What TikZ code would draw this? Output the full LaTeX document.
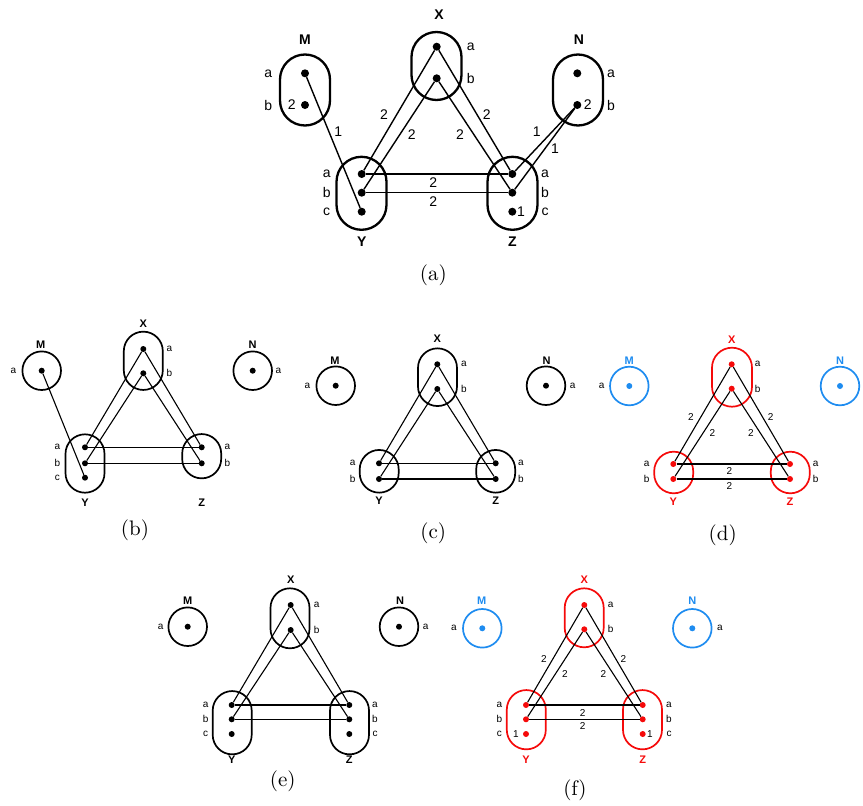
\documentclass[tikz,border=0pt]{standalone}
\usepackage{fontspec}
\newfontfamily\hv{Liberation Sans}
\definecolor{hred}{RGB}{245,10,10}
\definecolor{hblue}{RGB}{30,140,240}
\newcommand{\captxt}[1]{\scalebox{2.1}{\fontsize{10}{12}\selectfont #1}}
\begin{document}
\begin{tikzpicture}[x=1pt,y=-1pt,
  capA/.style={draw,line width=2.3pt,rounded corners=25pt,minimum width=50pt,inner sep=0},
  capB/.style={draw,line width=1.7pt,rounded corners=19.5pt,minimum width=39pt,inner sep=0},
  ringB/.style={draw,circle,line width=1.7pt,minimum size=38.6pt,inner sep=0},
  dotA/.style={circle,fill,inner sep=0,minimum size=8pt},
  dotB/.style={circle,fill,inner sep=0,minimum size=6pt},
  edgeA/.style={line width=1.4pt},
  edgeB/.style={line width=1.1pt},
  lblA/.style={font=\hv\fontsize{14}{14}\selectfont,inner sep=0},
  tagA/.style={font=\hv\bfseries\fontsize{14}{14}\selectfont,inner sep=0},
  lblB/.style={font=\hv\fontsize{10}{10}\selectfont,inner sep=0},
  tagB/.style={font=\hv\bfseries\fontsize{11}{11}\selectfont,inner sep=0},
  capt/.style={inner sep=0},
  rd/.style={color=hred},
  bl/.style={color=hblue}]
\useasboundingbox (0,0) rectangle (863,806);

%%%%%%%%%%%%%%%% (a)
\node[capA,minimum height=71pt] (aM) at (305,90) {};
\node[capA,minimum height=68pt] (aX) at (436.5,66) {};
\node[capA,minimum height=71pt] (aN) at (578,90) {};
\node[capA,minimum height=73pt] (aY) at (361.5,193.3) {};
\node[capA,minimum height=73pt] (aZ) at (512.5,193.3) {};
\node[dotA] (aM1) at (305,73.3) {};
\node[dotA] (aM2) at (305,105) {};
\node[dotA] (aX1) at (436.7,46.7) {};
\node[dotA] (aX2) at (436.7,78.3) {};
\node[dotA] (aN1) at (577.3,73.3) {};
\node[dotA] (aN2) at (577.3,105) {};
\node[dotA] (aY1) at (361.7,174) {};
\node[dotA] (aY2) at (361.7,192.7) {};
\node[dotA] (aY3) at (361.7,211.7) {};
\node[dotA] (aZ1) at (512.3,174) {};
\node[dotA] (aZ2) at (512.3,192.7) {};
\node[dotA] (aZ3) at (512.3,211.7) {};
\draw[edgeA] (aM1) -- (aY3);
\draw[edgeA] (aX1) -- (aY1);
\draw[edgeA] (aX2) -- (aY2);
\draw[edgeA] (aX1) -- (aZ1);
\draw[edgeA] (aX2) -- (aZ2);
\draw[edgeA] (aY1) -- (aZ1);
\draw[edgeA] (aY2) -- (aZ2);
\draw[edgeA] (aN2) -- (aZ1);
\draw[edgeA] (aN2) -- (aZ2);
\node[tagA] (aMt) at (305,40) {M};
\node[tagA] (aXt) at (439,15) {X};
\node[tagA] (aNt) at (579,40) {N};
\node[tagA] (aYt) at (361.7,241.7) {Y};
\node[tagA] (aZt) at (512.3,241.7) {Z};
\node[lblA] (aMa) at (268.3,73.3) {a};
\node[lblA] (aMb) at (268.3,105) {b};
\node[lblA] (aXa) at (470.7,46.7) {a};
\node[lblA] (aXb) at (470.7,78.3) {b};
\node[lblA] (aNa) at (611,73.3) {a};
\node[lblA] (aNb) at (611,105) {b};
\node[lblA] (aYa) at (326.7,174) {a};
\node[lblA] (aYb) at (326.7,192.7) {b};
\node[lblA] (aYc) at (326.7,211.7) {c};
\node[lblA] (aZa) at (545,174) {a};
\node[lblA] (aZb) at (545,192.7) {b};
\node[lblA] (aZc) at (545,211.7) {c};
\node[lblA] (aw1) at (291.7,105) {2};
\node[lblA] (aw2) at (587.7,105) {2};
\node[lblA] (aw3) at (521,211.7) {1};
\node[lblA] (aw4) at (338.3,131.7) {1};
\node[lblA] (aw5) at (384,115) {2};
\node[lblA] (aw6) at (411.7,135) {2};
\node[lblA] (aw7) at (486.7,115) {2};
\node[lblA] (aw8) at (460,135) {2};
\node[lblA] (aw9) at (433.3,182.7) {2};
\node[lblA] (aw10) at (433.3,201.7) {2};
\node[lblA] (aw11) at (536.7,131.7) {1};
\node[lblA] (aw12) at (555,148.3) {1};
\node[capt] (acap) at (433.3,275) {\captxt{(a)}};

%%%%%%%%%%%%%%%% (b)
\node[capB,minimum height=58.3pt] (bX) at (143.3,360.8) {};
\node[capB,minimum height=58.4pt] (bY) at (85,463.5) {};
\node[capB,minimum height=44.3pt] (bZ) at (201.7,456.2) {};
\node[ringB] (bM) at (41.7,370.7) {};
\node[ringB] (bN) at (252.7,370.7) {};
\node[dotB] (bM1) at (41.7,370.7) {};
\node[dotB] (bN1) at (252.7,370.7) {};
\node[dotB] (bX1) at (143.3,349) {};
\node[dotB] (bX2) at (143.3,373.3) {};
\node[dotB] (bY1) at (85,447.3) {};
\node[dotB] (bY2) at (85,463.3) {};
\node[dotB] (bY3) at (85,477.7) {};
\node[dotB] (bZ1) at (201.7,447.3) {};
\node[dotB] (bZ2) at (201.7,463.3) {};
\draw[edgeB] (bM1) -- (bY3);
\draw[edgeB] (bX1) -- (bY1);
\draw[edgeB] (bX2) -- (bY2);
\draw[edgeB] (bX1) -- (bZ1);
\draw[edgeB] (bX2) -- (bZ2);
\draw[edgeB] (bY1) -- (bZ1);
\draw[edgeB] (bY2) -- (bZ2);
\node[tagB] (bMt) at (40.7,345) {M};
\node[tagB] (bNt) at (252.7,345) {N};
\node[tagB] (bXt) at (143.3,324) {X};
\node[tagB] (bYt) at (85,502.7) {Y};
\node[tagB] (bZt) at (201.7,502.7) {Z};
\node[lblB] (bMa) at (13.3,370.7) {a};
\node[lblB] (bNa) at (278.3,370.7) {a};
\node[lblB] (bXa) at (169.3,349) {a};
\node[lblB] (bXb) at (169.3,373.3) {b};
\node[lblB] (bYa) at (57.3,447.3) {a};
\node[lblB] (bYb) at (57.3,463.3) {b};
\node[lblB] (bYc) at (57.3,477.7) {c};
\node[lblB] (bZa) at (227.3,447.3) {a};
\node[lblB] (bZb) at (227.3,463.3) {b};
\node[capt] (bcap) at (135,530) {\captxt{(b)}};

%%%%%%%%%%%%%%%% (c)
\node[capB,minimum height=57.7pt] (cX) at (437.5,377.2) {};
\node[capB,minimum height=42.7pt] (cY) at (379.2,471.3) {};
\node[capB,minimum height=42.7pt] (cZ) at (495.7,471.3) {};
\node[ringB] (cM) at (335.7,385.7) {};
\node[ringB] (cN) at (546,385.7) {};
\node[dotB] (cM1) at (335.7,385.7) {};
\node[dotB] (cN1) at (546,385.7) {};
\node[dotB] (cX1) at (437.3,364.3) {};
\node[dotB] (cX2) at (437.3,389) {};
\node[dotB] (cY1) at (379,463.3) {};
\node[dotB] (cY2) at (379,479) {};
\node[dotB] (cZ1) at (495.7,463.3) {};
\node[dotB] (cZ2) at (495.7,479) {};
\draw[edgeB] (cX1) -- (cY1);
\draw[edgeB] (cX2) -- (cY2);
\draw[edgeB] (cX1) -- (cZ1);
\draw[edgeB] (cX2) -- (cZ2);
\draw[edgeB] (cY1) -- (cZ1);
\draw[edgeB] (cY2) -- (cZ2);
\node[tagB] (cMt) at (335,360.7) {M};
\node[tagB] (cNt) at (546.5,360.7) {N};
\node[tagB] (cXt) at (437.3,338.3) {X};
\node[tagB] (cYt) at (379,500.7) {Y};
\node[tagB] (cZt) at (495.7,500.7) {Z};
\node[lblB] (cMa) at (307.3,385.7) {a};
\node[lblB] (cNa) at (572.7,385.7) {a};
\node[lblB] (cXa) at (464,364.3) {a};
\node[lblB] (cXb) at (464,389) {b};
\node[lblB] (cYa) at (352.7,463.3) {a};
\node[lblB] (cYb) at (352.7,479) {b};
\node[lblB] (cZa) at (521,463.3) {a};
\node[lblB] (cZb) at (521,479) {b};
\node[capt] (ccap) at (433.3,533.3) {\captxt{(c)}};

%%%%%%%%%%%%%%%% (d)
\node[capB,rd,minimum width=40pt,rounded corners=20pt,minimum height=59pt] (dX) at (732,377.2) {};
\node[capB,rd,minimum height=41.6pt] (dY) at (673.7,472.5) {};
\node[capB,rd,minimum height=41.6pt] (dZ) at (790.3,472.5) {};
\node[ringB,bl] (dM) at (629.3,386) {};
\node[ringB,bl] (dN) at (840,386) {};
\node[dotB,bl] (dM1) at (629.3,386) {};
\node[dotB,bl] (dN1) at (840,386) {};
\node[dotB,rd] (dX1) at (731.7,364.3) {};
\node[dotB,rd] (dX2) at (731.7,388.7) {};
\node[dotB,rd] (dY1) at (673.3,464) {};
\node[dotB,rd] (dY2) at (673.3,479) {};
\node[dotB,rd] (dZ1) at (790,464) {};
\node[dotB,rd] (dZ2) at (790,479) {};
\draw[edgeB] (dX1) -- (dY1);
\draw[edgeB] (dX2) -- (dY2);
\draw[edgeB] (dX1) -- (dZ1);
\draw[edgeB] (dX2) -- (dZ2);
\draw[edgeB] (dY1) -- (dZ1);
\draw[edgeB] (dY2) -- (dZ2);
\node[tagB,bl] (dMt) at (629.3,360.7) {M};
\node[tagB,bl] (dNt) at (840,360.7) {N};
\node[tagB,rd] (dXt) at (731.7,339.3) {X};
\node[tagB,rd] (dYt) at (673.3,501.7) {Y};
\node[tagB,rd] (dZt) at (790,501.7) {Z};
\node[lblB] (dMa) at (601.7,386) {a};
\node[lblB] (dXa) at (757.7,364.3) {a};
\node[lblB] (dXb) at (757.7,388.7) {b};
\node[lblB] (dYa) at (646.7,464) {a};
\node[lblB] (dYb) at (646.7,479) {b};
\node[lblB] (dZa) at (815.7,464) {a};
\node[lblB] (dZb) at (815.7,479) {b};
\node[lblB] (dw1) at (691,417.3) {2};
\node[lblB] (dw2) at (712.3,433.3) {2};
\node[lblB] (dw3) at (751,433.3) {2};
\node[lblB] (dw4) at (770.7,417.3) {2};
\node[lblB] (dw5) at (729.3,471) {2};
\node[lblB] (dw6) at (729.3,486) {2};
\node[capt] (dcap) at (722.7,535) {\captxt{(d)}};

%%%%%%%%%%%%%%%% (e)
\node[capB,minimum height=60pt] (eX) at (290,618.3) {};
\node[capB,minimum height=63.3pt] (eY) at (232.2,722.7) {};
\node[capB,minimum height=63.3pt] (eZ) at (349.5,722.7) {};
\node[ringB] (eM) at (187.7,626.7) {};
\node[ringB] (eN) at (399,626.7) {};
\node[dotB] (eM1) at (187.7,626.7) {};
\node[dotB] (eN1) at (399,626.7) {};
\node[dotB] (eX1) at (290.7,605) {};
\node[dotB] (eX2) at (290.7,630) {};
\node[dotB] (eY1) at (231.7,705) {};
\node[dotB] (eY2) at (231.7,719.3) {};
\node[dotB] (eY3) at (231.7,734) {};
\node[dotB] (eZ1) at (349.3,705) {};
\node[dotB] (eZ2) at (349.3,719.3) {};
\node[dotB] (eZ3) at (349.3,734) {};
\draw[edgeB] (eX1) -- (eY1);
\draw[edgeB] (eX2) -- (eY2);
\draw[edgeB] (eX1) -- (eZ1);
\draw[edgeB] (eX2) -- (eZ2);
\draw[edgeB] (eY1) -- (eZ1);
\draw[edgeB] (eY2) -- (eZ2);
\node[tagB] (eMt) at (187.7,601) {M};
\node[tagB] (eNt) at (400,601) {N};
\node[tagB] (eXt) at (290.7,580) {X};
\node[tagB] (eYt) at (231.7,760) {Y};
\node[tagB] (eZt) at (349.3,760) {Z};
\node[lblB] (eMa) at (160.7,626.7) {a};
\node[lblB] (eNa) at (425.7,626.7) {a};
\node[lblB] (eXa) at (316.7,605) {a};
\node[lblB] (eXb) at (316.7,630) {b};
\node[lblB] (eYa) at (205.7,705) {a};
\node[lblB] (eYb) at (205.7,719.3) {b};
\node[lblB] (eYc) at (205.7,734) {c};
\node[lblB] (eZa) at (375,705) {a};
\node[lblB] (eZb) at (375,719.3) {b};
\node[lblB] (eZc) at (375,734) {c};
\node[capt] (ecap) at (282.7,781.7) {\captxt{(e)}};

%%%%%%%%%%%%%%%% (f)
\node[capB,rd,minimum height=59pt] (fX) at (584.2,617.8) {};
\node[capB,rd,minimum height=59.3pt] (fY) at (526.3,719.7) {};
\node[capB,rd,minimum height=59.3pt] (fZ) at (642.5,719.7) {};
\node[ringB,bl] (fM) at (482.3,628.3) {};
\node[ringB,bl] (fN) at (692.3,628.3) {};
\node[dotB,bl] (fM1) at (482.3,628.3) {};
\node[dotB,bl] (fN1) at (692.3,628.3) {};
\node[dotB,rd] (fX1) at (584.3,605) {};
\node[dotB,rd] (fX2) at (584.3,629.3) {};
\node[dotB,rd] (fY1) at (526,705) {};
\node[dotB,rd] (fY2) at (526,719.3) {};
\node[dotB,rd] (fY3) at (526,734) {};
\node[dotB,rd] (fZ1) at (642.7,705) {};
\node[dotB,rd] (fZ2) at (642.7,719.3) {};
\node[dotB,rd] (fZ3) at (642.7,734) {};
\draw[edgeB] (fX1) -- (fY1);
\draw[edgeB] (fX2) -- (fY2);
\draw[edgeB] (fX1) -- (fZ1);
\draw[edgeB] (fX2) -- (fZ2);
\draw[edgeB] (fY1) -- (fZ1);
\draw[edgeB] (fY2) -- (fZ2);
\node[tagB,bl] (fMt) at (481.7,600.7) {M};
\node[tagB,bl] (fNt) at (692.3,600.7) {N};
\node[tagB,rd] (fXt) at (584.3,580) {X};
\node[tagB,rd] (fYt) at (526,759.3) {Y};
\node[tagB,rd] (fZt) at (642.7,759.3) {Z};
\node[lblB] (fMa) at (454,628.3) {a};
\node[lblB] (fNa) at (720,628.3) {a};
\node[lblB] (fXa) at (610.7,605) {a};
\node[lblB] (fXb) at (610.7,629.3) {b};
\node[lblB] (fYa) at (499.3,705) {a};
\node[lblB] (fYb) at (499.3,719.3) {b};
\node[lblB] (fYc) at (499.3,734) {c};
\node[lblB] (fZa) at (669,705) {a};
\node[lblB] (fZb) at (669,719.3) {b};
\node[lblB] (fZc) at (669,734) {c};
\node[lblB] (fw0) at (516,734) {1};
\node[lblB] (fw00) at (650,734) {1};
\node[lblB] (fw1) at (544,659.3) {2};
\node[lblB] (fw2) at (565,674) {2};
\node[lblB] (fw3) at (603.3,674) {2};
\node[lblB] (fw4) at (623.3,659.3) {2};
\node[lblB] (fw5) at (582.7,712.7) {2};
\node[lblB] (fw6) at (582.7,726) {2};
\node[capt] (fcap) at (575,790) {\captxt{(f)}};
\end{tikzpicture}
\end{document}
